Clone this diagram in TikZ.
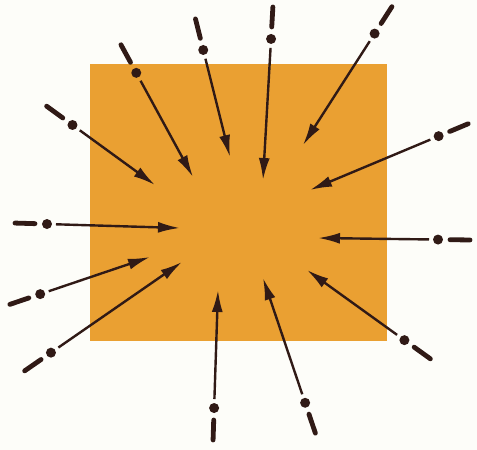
\documentclass[tikz,border=0pt]{standalone}
\usetikzlibrary{calc,arrows.meta}
\definecolor{sqcol}{RGB}{234,160,50}
\definecolor{ink}{RGB}{48,26,22}
\definecolor{bgcol}{RGB}{253,253,249}
\tikzset{
  dashpart/.style={draw=ink, line width=4.8pt, line cap=round},
  dotpart/.style={fill=ink},
  shaft/.style={draw=ink, line width=2.4pt, -{Latex[length=22pt,width=11pt]}}
}
\begin{document}
\begin{tikzpicture}[x=1pt,y=-1pt]
\fill[bgcol] (0,0) rectangle (477,450);
\useasboundingbox (0,0) rectangle (477,450);
\node (block) [fill=sqcol, inner sep=0pt, outer sep=0pt, minimum width=297pt, minimum height=277pt] at (238.5,202.5) {};
\foreach \i/\ex/\ey/\tx/\ty in {
  1/45/105/155/185,
  2/120/43/193/177,
  3/195/17/230/157,
  4/273/5/263/180,
  5/393/5/303/145,
  6/470/123/310/190,
  7/472/240/318/238,
  8/432/360/307/270,
  9/316/435/263/278,
  10/213/442/218/290,
  11/23/372/182/262,
  12/8/305/150/257,
  13/13/223/180/228}{
  \coordinate (e\i) at (\ex,\ey);
  \coordinate (t\i) at (\tx,\ty);
  \draw[dashpart] ($(e\i)!2pt!(t\i)$) -- ($(e\i)!22pt!(t\i)$);
  \fill[dotpart] ($(e\i)!34pt!(t\i)$) circle (5pt);
  \draw[shaft] ($(e\i)!43pt!(t\i)$) -- (t\i);
}
\end{tikzpicture}
\end{document}
